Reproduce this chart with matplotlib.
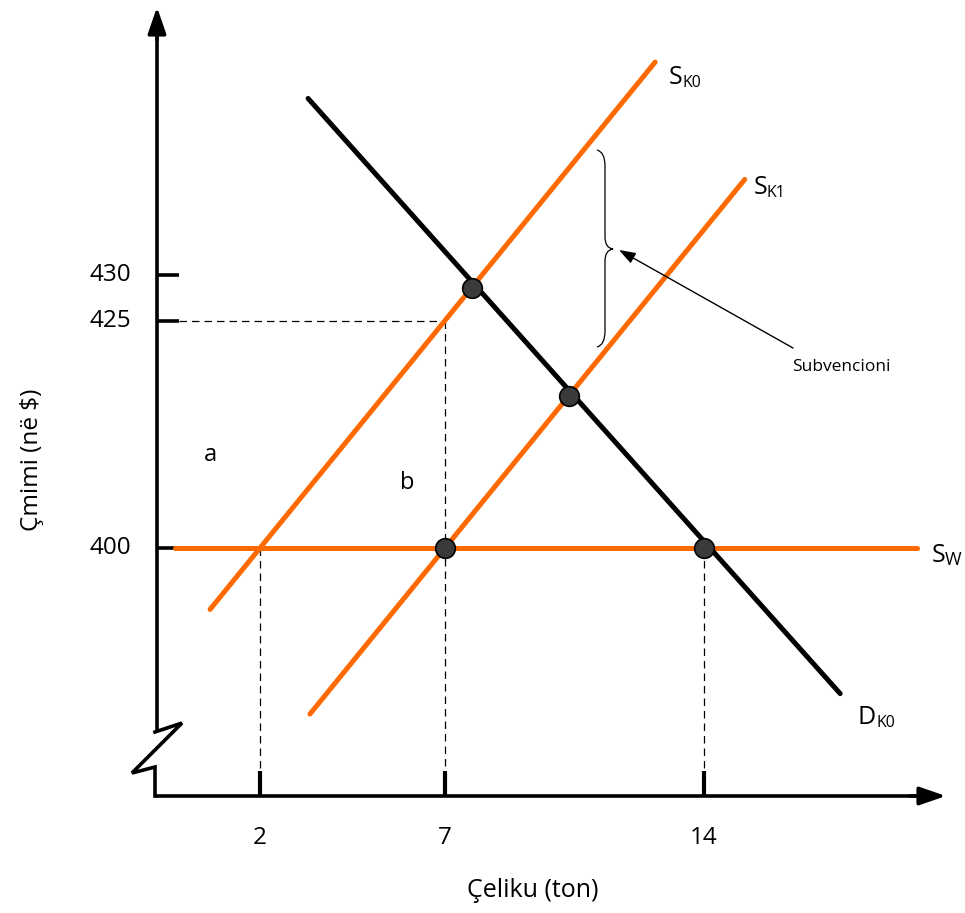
import matplotlib
matplotlib.use("Agg")
import matplotlib.pyplot as plt
from matplotlib.path import Path
from matplotlib.patches import PathPatch

plt.rcParams['font.family'] = ['Open Sans', 'DejaVu Sans']

# ---------------- data ----------------
x_ticks = [2, 7, 14]
y_ticks = [400, 425, 430]

sk0_x = [0.65, 12.68]
sk0_y = [393.25, 453.4]
sk1_x = [3.35, 15.1]
sk1_y = [381.75, 440.5]
d_x = [3.3, 17.68]
d_y = [449.4, 384.0]
sw_x = [-0.3, 19.76]
sw_y = [400, 400]

pts_x = [7.72, 10.35, 7, 14]
pts_y = [428.6, 416.7, 400, 400]

# ---------------- layout helpers (pixel -> data) ----------------
W, H = 965, 913
X0, KX = 186.0, 37.0      # px of x=0, px per unit
Y400, KY = 548.0, 9.1     # px of y=400, px per unit

def X(px):
    return (px - X0) / KX

def Y(py):
    return 400 - (py - Y400) / KY

fig = plt.figure(figsize=(W / 100, H / 100), dpi=100)
ax = fig.add_axes([0, 0, 1, 1])
ax.set_xlim(X(0), X(W))
ax.set_ylim(Y(H), Y(0))
ax.axis('off')

ORANGE = '#FF6A00'
LW = 3.6

# axes with break
ax_x = X(157)
ax_bottom = Y(796)
ax_top = Y(30)
ax.plot([ax_x, ax_x], [ax_top, Y(732)], color='black', lw=2.6, solid_capstyle='butt')
zig = [(155, 732), (182, 723), (132, 773), (155, 767), (155, 796)]
ax.plot([X(p[0]) for p in zig], [Y(p[1]) for p in zig], color='black', lw=2.6,
        solid_joinstyle='miter')
ax.plot([X(155), X(925)], [ax_bottom, ax_bottom], color='black', lw=2.6,
        solid_capstyle='butt')
# arrows
ax.annotate('', xy=(ax_x, Y(7)), xytext=(ax_x, Y(40)),
            arrowprops=dict(arrowstyle='-|>,head_length=1.6,head_width=0.55',
                            color='black', lw=2.6, shrinkA=0, shrinkB=0))
ax.annotate('', xy=(X(946), ax_bottom), xytext=(X(910), ax_bottom),
            arrowprops=dict(arrowstyle='-|>,head_length=1.6,head_width=0.55',
                            color='black', lw=2.6, shrinkA=0, shrinkB=0))

# y ticks
for yt in y_ticks:
    ax.plot([ax_x, X(179)], [yt, yt], color='black', lw=2.6, solid_capstyle='butt')
    ax.text(X(131), yt, str(yt), ha='right', va='center', fontsize=17.5)
# x ticks
for xt in x_ticks:
    ax.plot([xt, xt], [ax_bottom, Y(771)], color='black', lw=3.0, solid_capstyle='butt')
    ax.text(xt, Y(838), str(xt), ha='center', va='center', fontsize=17.5)

# dashed guides
dash = dict(color='black', lw=0.9, ls=(0, (6, 4)))
ax.plot([X(179), 7], [425, 425], **dash)
ax.plot([7, 7], [425, Y(771)], **dash)
ax.plot([2, 2], [400, Y(771)], **dash)
ax.plot([14, 14], [400, Y(771)], **dash)

# curves
ax.plot(sw_x, sw_y, color=ORANGE, lw=LW, solid_capstyle='round', zorder=3)
ax.plot(sk0_x, sk0_y, color=ORANGE, lw=LW, solid_capstyle='round', zorder=3)
ax.plot(sk1_x, sk1_y, color=ORANGE, lw=LW, solid_capstyle='round', zorder=3)
ax.plot(d_x, d_y, color='black', lw=LW, solid_capstyle='round', zorder=4)
ax.scatter(pts_x, pts_y, s=200, color='#3a3a3a', edgecolor='black', linewidth=1.2, zorder=5)

# curve labels
def label(xl, yb, main, sub, size=18, subsize=11.5, dx=13, dy=3):
    ax.text(X(xl), Y(yb), main, ha='left', va='baseline', fontsize=size)
    ax.text(X(xl + dx), Y(yb + dy), sub, ha='left', va='baseline', fontsize=subsize)

label(669, 84, 'S', 'K0')
label(754, 194, 'S', 'K1')
label(932, 562, 'S', 'W', subsize=13, dy=3)
label(858, 724, 'D', 'K0', dx=18)

ax.text(X(210), Y(455), 'a', ha='center', va='center', fontsize=17)
ax.text(X(407), Y(483), 'b', ha='center', va='center', fontsize=17)

# brace
bx0, bx1, btip = 597, 605, 613
b_top, b_mid, b_bot = 150, 249, 347
verts = [(bx0, b_top), (bx1, b_top + 2), (bx1, b_top + 16),
         (bx1, b_mid - 12),
         (bx1, b_mid - 1), (btip, b_mid),
         (bx1, b_mid + 1), (bx1, b_mid + 12),
         (bx1, b_bot - 16),
         (bx1, b_bot - 2), (bx0, b_bot)]
codes = [Path.MOVETO, Path.CURVE3, Path.CURVE3, Path.LINETO,
         Path.CURVE3, Path.CURVE3, Path.CURVE3, Path.CURVE3,
         Path.LINETO, Path.CURVE3, Path.CURVE3]
path = Path([(X(v[0]), Y(v[1])) for v in verts], codes)
ax.add_patch(PathPatch(path, fill=False, lw=0.9, edgecolor='black'))

# annotation arrow
ax.annotate('', xy=(X(619), Y(250)), xytext=(X(793), Y(348)),
            arrowprops=dict(arrowstyle='-|>,head_length=1.0,head_width=0.35',
                            color='black', lw=1.0, shrinkA=0, shrinkB=0))
ax.text(X(841), Y(367), 'Subvencioni', ha='center', va='center', fontsize=12.5)

# axis titles
ax.text(X(533), Y(890), 'Çeliku (ton)', ha='center', va='center', fontsize=18)
ax.text(X(32), Y(460), 'Çmimi (në $)', ha='center', va='center', fontsize=17.5, rotation=90)

fig.savefig('out.png', dpi=100)
